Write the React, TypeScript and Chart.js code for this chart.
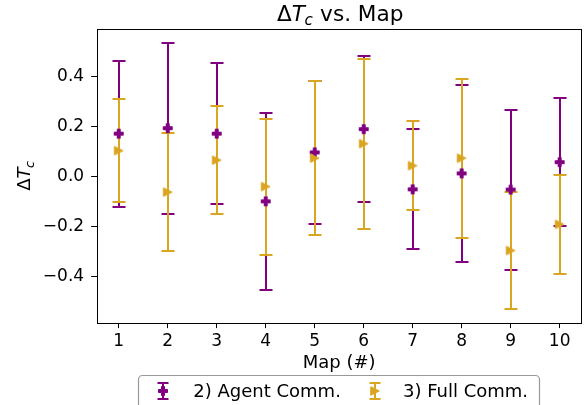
import React, { useEffect, useRef } from "react";
import { Chart, registerables } from "chart.js";

Chart.register(...registerables);

const maps = [1, 2, 3, 4, 5, 6, 7, 8, 9, 10];
const agentMean = [0.171, 0.193, 0.171, -0.1, 0.096, 0.189, -0.052, 0.012, -0.053, 0.057];
const agentErr = [0.292, 0.342, 0.282, 0.355, 0.286, 0.292, 0.24, 0.355, 0.32, 0.255];
const fullMean = [0.103, -0.063, 0.065, -0.041, 0.073, 0.131, 0.043, 0.073, -0.297, -0.192];
const fullErr = [0.207, 0.235, 0.216, 0.272, 0.308, 0.34, 0.177, 0.318, 0.235, 0.198];
const yTicks = [-0.4, -0.2, 0.0, 0.2, 0.4];
const seriesLabels = ["2) Agent Comm.", "3) Full Comm."];
const PURPLE = "#800080";
const GOLD = "#DAA520";
const FONT = "'DejaVu Sans', sans-serif";

function makePlus(color: string, size: number): HTMLCanvasElement {
  const c = document.createElement("canvas");
  c.width = 14;
  c.height = 14;
  const ctx = c.getContext("2d")!;
  const h = size / 2;
  const a = size / 6;
  ctx.translate(7, 7);
  ctx.beginPath();
  ctx.moveTo(-a, -h);
  ctx.lineTo(a, -h);
  ctx.lineTo(a, -a);
  ctx.lineTo(h, -a);
  ctx.lineTo(h, a);
  ctx.lineTo(a, a);
  ctx.lineTo(a, h);
  ctx.lineTo(-a, h);
  ctx.lineTo(-a, a);
  ctx.lineTo(-h, a);
  ctx.lineTo(-h, -a);
  ctx.lineTo(-a, -a);
  ctx.closePath();
  ctx.fillStyle = color;
  ctx.strokeStyle = color;
  ctx.lineWidth = 1;
  ctx.fill();
  ctx.stroke();
  return c;
}

function makeTri(color: string, size: number): HTMLCanvasElement {
  const c = document.createElement("canvas");
  c.width = 14;
  c.height = 14;
  const ctx = c.getContext("2d")!;
  const h = size / 2;
  ctx.translate(7, 7);
  ctx.beginPath();
  ctx.moveTo(h, 0);
  ctx.lineTo(-h, -h);
  ctx.lineTo(-h, h);
  ctx.closePath();
  ctx.fillStyle = color;
  ctx.strokeStyle = color;
  ctx.lineWidth = 1;
  ctx.fill();
  ctx.stroke();
  return c;
}

function drawMath(ctx: CanvasRenderingContext2D, x: number, y: number, size: number, rest: string, align: "center" | "left") {
  const normal = `${size}px ${FONT}`;
  const ital = `oblique ${size}px ${FONT}`;
  const sub = `oblique ${size * 0.7}px ${FONT}`;
  ctx.font = normal;
  const wD = ctx.measureText("\u0394").width;
  ctx.font = ital;
  const wT = ctx.measureText("T").width;
  ctx.font = sub;
  const wc = ctx.measureText("c").width;
  ctx.font = normal;
  const wr = ctx.measureText(rest).width;
  const total = wD + wT + wc + wr;
  let cx = align === "center" ? x - total / 2 : x;
  ctx.textAlign = "left";
  ctx.textBaseline = "alphabetic";
  ctx.fillStyle = "#000";
  ctx.font = normal;
  ctx.fillText("\u0394", cx, y);
  cx += wD;
  ctx.font = ital;
  ctx.fillText("T", cx, y);
  cx += wT - size * 0.02;
  ctx.font = sub;
  ctx.fillText("c", cx, y + size * 0.2);
  cx += wc + size * 0.02;
  ctx.font = normal;
  if (rest) ctx.fillText(rest, cx, y);
}

const errorBarPlugin = {
  id: "errorBars",
  beforeDatasetsDraw(chart: any) {
    const ctx = chart.ctx;
    const xs = chart.scales.x;
    const ys = chart.scales.y;
    ctx.save();
    chart.data.datasets.forEach((ds: any) => {
      ctx.strokeStyle = ds.errColor;
      ds.data.forEach((p: any, j: number) => {
        const e = ds.errors[j];
        const px = Math.round(xs.getPixelForValue(p.x));
        const yt = Math.round(ys.getPixelForValue(p.y + e));
        const yb = Math.round(ys.getPixelForValue(p.y - e));
        ctx.lineWidth = 2;
        ctx.beginPath();
        ctx.moveTo(px, yt);
        ctx.lineTo(px, yb);
        ctx.stroke();
        ctx.lineWidth = 2;
        ctx.beginPath();
        ctx.moveTo(px - 6.5, yt);
        ctx.lineTo(px + 6.5, yt);
        ctx.moveTo(px - 6.5, yb);
        ctx.lineTo(px + 6.5, yb);
        ctx.stroke();
      });
    });
    ctx.restore();
  },
};

const decorPlugin = {
  id: "decor",
  afterDraw(chart: any) {
    const ctx = chart.ctx;
    const a = chart.chartArea;
    ctx.save();
    ctx.strokeStyle = "#000";
    ctx.lineWidth = 1;
    ctx.strokeRect(Math.round(a.left) + 0.5, Math.round(a.top) + 0.5, Math.round(a.right - a.left) - 1, Math.round(a.bottom - a.top));
    const cx = (a.left + a.right) / 2;
    drawMath(ctx, cx + 1, 21, 21.6, " vs. Map", "center");
    ctx.font = `18px ${FONT}`;
    ctx.fillStyle = "#000";
    ctx.textAlign = "center";
    ctx.textBaseline = "alphabetic";
    ctx.fillText("Map (#)", cx, 368);
    ctx.save();
    ctx.translate(30, (a.top + a.bottom) / 2);
    ctx.rotate(-Math.PI / 2);
    drawMath(ctx, 0, 0, 18, "", "center");
    ctx.restore();
    ctx.beginPath();
    ctx.roundRect(138.5, 375.5, 401, 60, 4);
    ctx.fillStyle = "rgba(255,255,255,0.8)";
    ctx.fill();
    ctx.strokeStyle = "#999";
    ctx.lineWidth = 1.2;
    ctx.stroke();
    const handles = [163, 375];
    const texts = [193.3, 403];
    chart.data.datasets.forEach((ds: any, i: number) => {
      const hx = handles[i];
      ctx.strokeStyle = ds.errColor;
      ctx.lineWidth = 2;
      ctx.beginPath();
      ctx.moveTo(hx, 383);
      ctx.lineTo(hx, 399);
      ctx.stroke();
      ctx.beginPath();
      ctx.moveTo(hx - 5.5, 383);
      ctx.lineTo(hx + 5.5, 383);
      ctx.moveTo(hx - 5.5, 399);
      ctx.lineTo(hx + 5.5, 399);
      ctx.stroke();
      const img = ds.pointStyle as HTMLCanvasElement;
      ctx.drawImage(img, hx - img.width / 2, 391 - img.height / 2);
      ctx.font = `18px ${FONT}`;
      ctx.fillStyle = "#000";
      ctx.textAlign = "left";
      ctx.fillText(ds.label, texts[i], 397);
    });
    ctx.restore();
  },
};

export default function App() {
  const ref = useRef<HTMLCanvasElement | null>(null);
  useEffect(() => {
    if (!ref.current) return;
    const plus = makePlus(PURPLE, 9);
    const tri = makeTri(GOLD, 8.5);
    const tickFont = { family: FONT, size: 17 };
    const chart = new Chart(ref.current, {
      type: "scatter",
      data: {
        datasets: [
          {
            label: seriesLabels[0],
            data: maps.map((m, i) => ({ x: m, y: agentMean[i] })),
            pointStyle: plus,
            backgroundColor: PURPLE,
            borderColor: PURPLE,
            order: 1,
            errors: agentErr,
            errColor: PURPLE,
          } as any,
          {
            label: seriesLabels[1],
            data: maps.map((m, i) => ({ x: m, y: fullMean[i] })),
            pointStyle: tri,
            backgroundColor: GOLD,
            borderColor: GOLD,
            order: 0,
            errors: fullErr,
            errColor: GOLD,
          } as any,
        ],
      },
      options: {
        responsive: false,
        animation: false,
        devicePixelRatio: 1,
        layout: { padding: { top: 29, right: 6.3, left: 0, bottom: 0 } },
        plugins: { legend: { display: false }, title: { display: false }, tooltip: { enabled: false } },
        scales: {
          x: {
            type: "linear",
            min: 0.55,
            max: 10.45,
            afterBuildTicks: (s: any) => {
              s.ticks = maps.map((v) => ({ value: v }));
            },
            afterFit: (s: any) => {
              s.height = 82.5;
            },
            ticks: { font: tickFont, color: "#000", padding: 3, maxRotation: 0, autoSkip: false, callback: (v: any) => String(v) },
            grid: { display: true, drawOnChartArea: false, drawTicks: true, tickLength: 5.6, color: "#000", lineWidth: 1 },
            border: { display: false },
          },
          y: {
            type: "linear",
            min: -0.585,
            max: 0.59,
            afterBuildTicks: (s: any) => {
              s.ticks = yTicks.map((v) => ({ value: v }));
            },
            afterFit: (s: any) => {
              s.width = 96.7;
            },
            ticks: {
              font: tickFont,
              color: "#000",
              padding: 7,
              autoSkip: false,
              callback: (v: any) => (Number(v) < 0 ? "\u2212" : "") + Math.abs(Number(v)).toFixed(1),
            },
            grid: { display: true, drawOnChartArea: false, drawTicks: true, tickLength: 5.6, color: "#000", lineWidth: 1 },
            border: { display: false },
          },
        },
      } as any,
      plugins: [errorBarPlugin, decorPlugin],
    });
    return () => chart.destroy();
  }, []);
  return (
    <div style={{ position: "absolute", left: 0, top: 0, width: 588, height: 405, background: "#fff" }}>
      <canvas ref={ref} width={588} height={405} style={{ display: "block" }} />
    </div>
  );
}
